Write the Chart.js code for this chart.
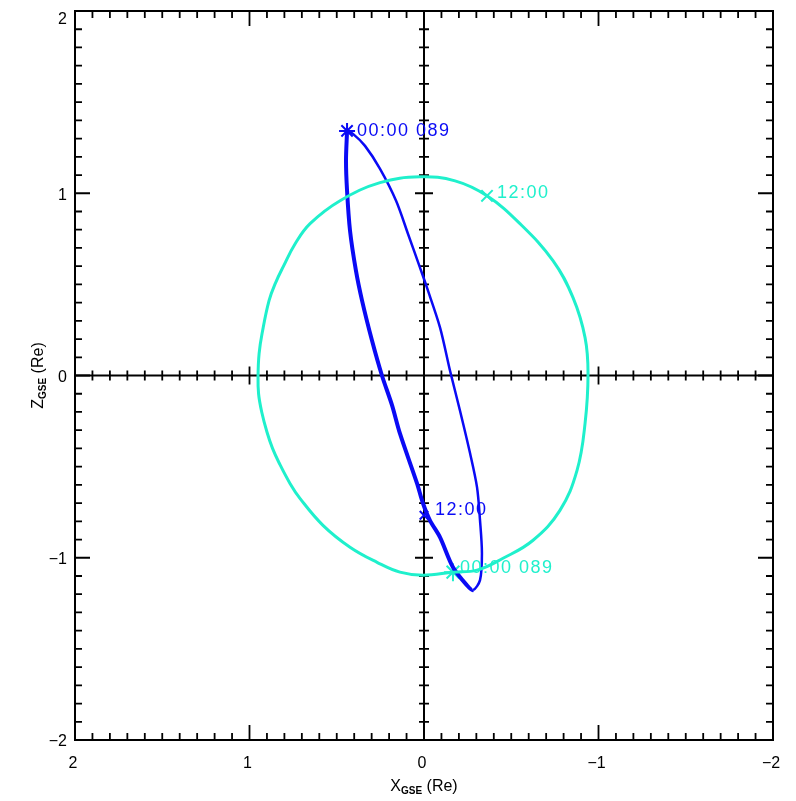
<!DOCTYPE html>
<html>
<head>
<meta charset="utf-8">
<script src="https://cdn.jsdelivr.net/npm/chart.js@4.4.1/dist/chart.umd.min.js"></script>
<style>
  html, body { margin: 0; padding: 0; background: #fff; }
  canvas { display: block; }
</style>
</head>
<body>
<canvas id="orbitChart" width="796" height="801"></canvas>
<script>
// axis ticks
const xTicks = [2, 1, 0, -1, -2];
const yTicks = [2, 1, 0, -1, -2];
const tickLabels = ['2', '1', '0', '\u22121', '\u22122'];

// cyan orbit (X_GSE, Z_GSE in Re)
const cyanX = [-0.166, 0.006, 0.138, 0.269, 0.424, 0.579, 0.711, 0.768, 0.830, 0.868, 0.900, 0.930,
  0.948, 0.951, 0.945, 0.928, 0.888, 0.850, 0.805, 0.740, 0.653, 0.481, 0.252, 0.023, -0.178,
  -0.361, -0.550, -0.739, -0.854, -0.923, -0.940, -0.923, -0.877, -0.779, -0.625, -0.453,
  -0.304, -0.166];
const cyanZ = [-1.079, -1.096, -1.079, -1.025, -0.942, -0.822, -0.674, -0.592, -0.480, -0.400,
  -0.310, -0.200, -0.100, 0.000, 0.120, 0.230, 0.411, 0.510, 0.600, 0.720, 0.833, 0.959, 1.058,
  1.090, 1.068, 0.986, 0.833, 0.630, 0.427, 0.208, 0.011, -0.263, -0.521, -0.740, -0.904,
  -1.003, -1.068, -1.079];

// blue orbit
const blueX = [0.441, 0.447, 0.441, 0.424, 0.390, 0.355, 0.298, 0.241, 0.183, 0.138, 0.040,
  0.006, -0.034, -0.092, -0.166, -0.246, -0.281, -0.321, -0.332, -0.321, -0.304, -0.264,
  -0.206, -0.149, -0.092, -0.017, 0.023, 0.092, 0.160, 0.252, 0.338, 0.407, 0.441];
const blueZ = [1.342, 1.178, 1.014, 0.795, 0.575, 0.411, 0.192, 0.000, -0.164, -0.318, -0.592,
  -0.701, -0.795, -0.888, -1.052, -1.151, -1.178, -1.123, -0.975, -0.795, -0.614, -0.427,
  -0.192, 0.027, 0.263, 0.482, 0.592, 0.778, 0.959, 1.134, 1.260, 1.326, 1.342];

// time markers
const markText = ['00:00 089', '12:00', '12:00', '00:00 089'];
const markX = [0.441, 0.0, -0.361, -0.166];
const markZ = [1.342, -0.767, 0.986, -1.079];

const CYAN = '#1ff0cc';
const BLUE = '#0a0af5';

function pts(xs, zs) {
  return xs.map((x, i) => ({ x: x, y: zs[i] }));
}

const axesPlugin = {
  id: 'idlAxes',
  beforeDatasetsDraw(chart) {
    const ctx = chart.ctx;
    const a = chart.chartArea;
    const xs = chart.scales.x, ys = chart.scales.y;
    const x0 = xs.getPixelForValue(0), y0 = ys.getPixelForValue(0);
    ctx.save();
    ctx.strokeStyle = '#000';
    ctx.lineWidth = 2;
    ctx.beginPath();
    ctx.rect(a.left, a.top, a.right - a.left, a.bottom - a.top);
    ctx.moveTo(a.left, y0); ctx.lineTo(a.right, y0);
    ctx.moveTo(x0, a.top); ctx.lineTo(x0, a.bottom);
    ctx.stroke();
    ctx.lineWidth = 1.8;
    ctx.beginPath();
    for (let i = -19; i <= 19; i++) {
      const v = i / 10;
      const major = i % 10 === 0;
      const px = xs.getPixelForValue(v);
      const py = ys.getPixelForValue(v);
      const lo = major ? 15 : 7;
      const c = major ? 9 : 5;
      // frame ticks
      ctx.moveTo(px, a.top); ctx.lineTo(px, a.top + lo);
      ctx.moveTo(px, a.bottom); ctx.lineTo(px, a.bottom - lo);
      ctx.moveTo(a.left, py); ctx.lineTo(a.left + lo, py);
      ctx.moveTo(a.right, py); ctx.lineTo(a.right - lo, py);
      // centre axes ticks
      if (i !== 0) {
        ctx.moveTo(px, y0 - c); ctx.lineTo(px, y0 + c);
        ctx.moveTo(x0 - c, py); ctx.lineTo(x0 + c, py);
      }
    }
    ctx.stroke();
    ctx.restore();
  },
  afterDraw(chart) {
    const ctx = chart.ctx;
    const a = chart.chartArea;
    const xs = chart.scales.x, ys = chart.scales.y;
    ctx.save();
    ctx.fillStyle = '#000';
    ctx.font = '16px "Liberation Sans", Arial, sans-serif';
    // x tick labels
    ctx.textAlign = 'center';
    ctx.textBaseline = 'middle';
    xTicks.forEach((v, i) => {
      ctx.fillText(tickLabels[i], xs.getPixelForValue(v) - 2, a.bottom + 24);
    });
    // y tick labels
    ctx.textAlign = 'right';
    yTicks.forEach((v, i) => {
      const py = Math.max(ys.getPixelForValue(v) + 2, a.top + 9);
      ctx.fillText(tickLabels[i], a.left - 8, py);
    });
    // axis titles
    function title(x, y, rot) {
      ctx.save();
      ctx.translate(x, y);
      ctx.rotate(rot);
      const big = '16px "Liberation Sans", Arial, sans-serif';
      const sub = 'bold 10px "Liberation Sans", Arial, sans-serif';
      ctx.font = big;
      const w1 = ctx.measureText(rot ? 'Z' : 'X').width;
      const w3 = ctx.measureText(' (Re)').width;
      ctx.font = sub;
      const w2 = ctx.measureText('GSE').width;
      let cx = -(w1 + w2 + w3) / 2;
      ctx.textAlign = 'left';
      ctx.textBaseline = 'alphabetic';
      ctx.font = big;
      ctx.fillText(rot ? 'Z' : 'X', cx, 5);
      ctx.font = sub;
      ctx.fillText('GSE', cx + w1, 8);
      ctx.font = big;
      ctx.fillText(' (Re)', cx + w1 + w2, 5);
      ctx.restore();
    }
    title((a.left + a.right) / 2, a.bottom + 46, 0);
    title(38, (a.top + a.bottom) / 2, -Math.PI / 2);
    // time labels
    ctx.font = '18px "Liberation Sans", Arial, sans-serif';
    ctx.letterSpacing = '1.5px';
    ctx.textAlign = 'left';
    ctx.textBaseline = 'middle';
    const off = [[10, 0], [11, -5], [10, -3], [7, -4]];
    const col = [BLUE, BLUE, CYAN, CYAN];
    markText.forEach((t, i) => {
      ctx.fillStyle = col[i];
      ctx.fillText(t, xs.getPixelForValue(markX[i]) + off[i][0], ys.getPixelForValue(markZ[i]) + off[i][1]);
    });
    ctx.restore();
  }
};

const bgPlugin = {
  id: 'bg',
  beforeDraw(chart) {
    const ctx = chart.ctx;
    ctx.save();
    ctx.fillStyle = '#fff';
    ctx.fillRect(0, 0, chart.width, chart.height);
    ctx.restore();
  }
};

new Chart(document.getElementById('orbitChart').getContext('2d'), {
  type: 'scatter',
  data: {
    datasets: [
      {
        data: pts(cyanX, cyanZ),
        showLine: true,
        borderColor: CYAN,
        borderWidth: 3,
        pointRadius: 0,
        tension: 0.4
      },
      {
        data: pts(blueX, blueZ),
        showLine: true,
        borderColor: BLUE,
        borderWidth: 3,
        pointRadius: 0,
        tension: 0.3,
        segment: {
          borderWidth: c => (c.p0DataIndex < 16 ? 4 : 2.5)
        }
      },
      {
        data: [{ x: markX[0], y: markZ[0] }, { x: markX[1], y: markZ[1] }],
        showLine: false,
        pointStyle: ['star', 'crossRot'],
        pointRadius: [8, 6],
        borderColor: BLUE,
        borderWidth: 2
      },
      {
        data: [{ x: markX[2], y: markZ[2] }, { x: markX[3], y: markZ[3] }],
        showLine: false,
        pointStyle: ['crossRot', 'star'],
        pointRadius: [8, 9],
        borderColor: CYAN,
        borderWidth: 2
      }
    ]
  },
  options: {
    responsive: false,
    animation: false,
    events: [],
    layout: { padding: { left: 75, right: 23, top: 10, bottom: 61 } },
    plugins: {
      legend: { display: false },
      tooltip: { enabled: false }
    },
    scales: {
      x: { type: 'linear', reverse: true, min: -2, max: 2, display: false },
      y: { type: 'linear', min: -2, max: 2, display: false }
    }
  },
  plugins: [bgPlugin, axesPlugin]
});
</script>
</body>
</html>
